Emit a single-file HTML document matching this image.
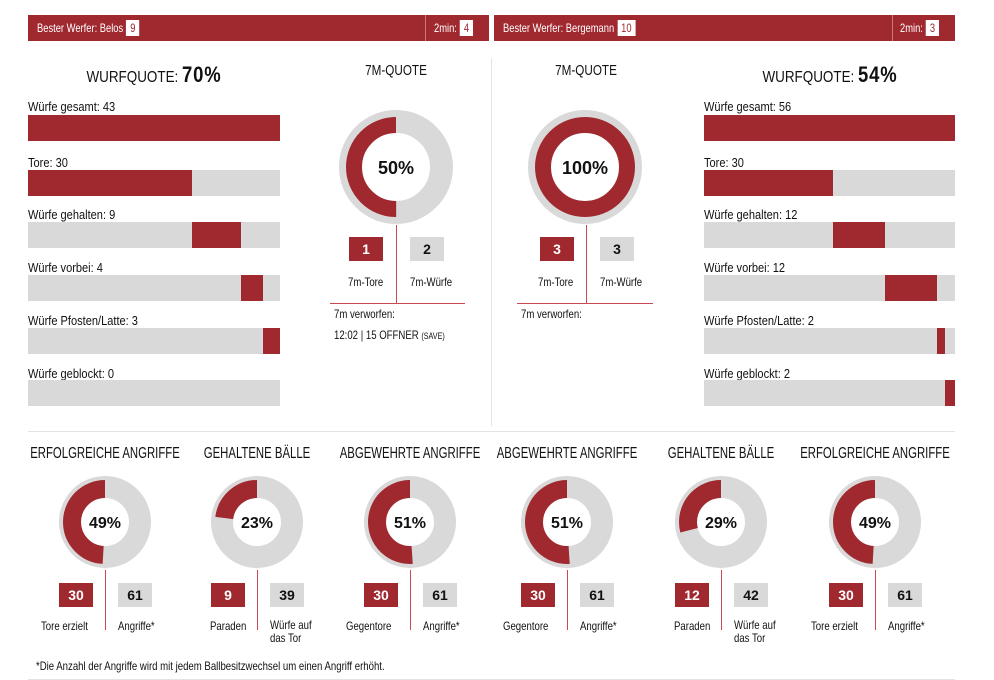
<!DOCTYPE html>
<html><head><meta charset="utf-8">
<style>
body{margin:0;background:#fff;width:994px;height:680px;overflow:hidden;position:relative;font-family:"Liberation Sans",sans-serif;color:#111}
.a{position:absolute}
.hdr{position:absolute;top:15px;height:26px;background:#a0282f;color:#fff;font-size:12px;line-height:26px}
.hs{display:inline-block;transform:scaleX(.78);transform-origin:left center;white-space:nowrap}
.bx{display:inline-block;background:#fff;color:#a0282f;height:16px;line-height:16px;padding:0 5px;font-size:12px;vertical-align:middle;margin-left:4px;margin-top:-2px}
.lbl{position:absolute;font-size:13px;transform:scaleX(.85);transform-origin:left;white-space:nowrap}
.bar{position:absolute;height:26px;background:#d9d9d9}
.bar i{position:absolute;top:0;height:26px;background:#a0282f}
.t{position:absolute;font-size:16px;text-align:center;white-space:nowrap;transform:scaleX(.71);transform-origin:center}
.sb{position:absolute;height:24px;width:34px;font-weight:bold;font-size:14px;text-align:center;line-height:24px}
.r{background:#a0282f;color:#fff}.g{background:#d9d9d9;color:#111}
.s{position:absolute;font-size:12px;white-space:nowrap;transform:scaleX(.8);transform-origin:left}
</style></head><body>
<div class="hdr" style="left:28px;width:461px"><span class="hs" style="margin-left:9px">Bester Werfer: Belos<span class="bx">9</span></span></div>
<div class="a" style="left:425px;top:15px;width:1px;height:26px;background:#c77"></div>
<div class="a" style="left:434px;top:15px;color:#fff;font-size:12px;line-height:26px"><span class="hs">2min:<span class="bx">4</span></span></div>
<div class="hdr" style="left:494px;width:461px"><span class="hs" style="margin-left:9px">Bester Werfer: Bergemann<span class="bx">10</span></span></div>
<div class="a" style="left:892px;top:15px;width:1px;height:26px;background:#c77"></div>
<div class="a" style="left:900px;top:15px;color:#fff;font-size:12px;line-height:26px"><span class="hs">2min:<span class="bx">3</span></span></div>

<div class="a" style="left:491px;top:58px;width:1px;height:368px;background:#e3e3e3"></div>
<div class="a" style="left:28px;top:431px;width:927px;height:1px;background:#e3e3e3"></div>
<div class="a" style="left:28px;top:679px;width:927px;height:1px;background:#e3e3e3"></div>

<div class="t" style="left:14px;width:280px;top:62px;font-size:16px;transform:scaleX(.84)">WURFQUOTE: <b style="font-size:22px;letter-spacing:1px">70%</b></div>
<div class="t" style="left:690px;width:280px;top:62px;font-size:16px;transform:scaleX(.84)">WURFQUOTE: <b style="font-size:22px;letter-spacing:1px">54%</b></div>
<div class="t" style="left:336px;width:120px;top:62px;font-size:15px;transform:scaleX(.78)">7M-QUOTE</div>
<div class="t" style="left:526px;width:120px;top:62px;font-size:15px;transform:scaleX(.78)">7M-QUOTE</div>

<!-- left bars -->
<div class="lbl" style="left:28px;top:99px">Würfe gesamt: 43</div><div class="bar" style="left:28px;top:115px;width:252px"><i style="left:0;width:252px"></i></div>
<div class="lbl" style="left:28px;top:155px">Tore: 30</div><div class="bar" style="left:28px;top:170px;width:252px"><i style="left:0;width:164px"></i></div>
<div class="lbl" style="left:28px;top:207px">Würfe gehalten: 9</div><div class="bar" style="left:28px;top:222px;width:252px"><i style="left:164px;width:49px"></i></div>
<div class="lbl" style="left:28px;top:260px">Würfe vorbei: 4</div><div class="bar" style="left:28px;top:275px;width:252px"><i style="left:213px;width:22px"></i></div>
<div class="lbl" style="left:28px;top:313px">Würfe Pfosten/Latte: 3</div><div class="bar" style="left:28px;top:328px;width:252px"><i style="left:235px;width:17px"></i></div>
<div class="lbl" style="left:28px;top:366px">Würfe geblockt: 0</div><div class="bar" style="left:28px;top:380px;width:252px"></div>
<!-- right bars -->
<div class="lbl" style="left:704px;top:99px">Würfe gesamt: 56</div><div class="bar" style="left:704px;top:115px;width:251px"><i style="left:0;width:251px"></i></div>
<div class="lbl" style="left:704px;top:155px">Tore: 30</div><div class="bar" style="left:704px;top:170px;width:251px"><i style="left:0;width:129px"></i></div>
<div class="lbl" style="left:704px;top:207px">Würfe gehalten: 12</div><div class="bar" style="left:704px;top:222px;width:251px"><i style="left:129px;width:52px"></i></div>
<div class="lbl" style="left:704px;top:260px">Würfe vorbei: 12</div><div class="bar" style="left:704px;top:275px;width:251px"><i style="left:181px;width:52px"></i></div>
<div class="lbl" style="left:704px;top:313px">Würfe Pfosten/Latte: 2</div><div class="bar" style="left:704px;top:328px;width:251px"><i style="left:233px;width:8px"></i></div>
<div class="lbl" style="left:704px;top:366px">Würfe geblockt: 2</div><div class="bar" style="left:704px;top:380px;width:251px"><i style="left:241px;width:10px"></i></div>

<svg class="a" style="left:0;top:0" width="994" height="680">
<g font-family="Liberation Sans, sans-serif" font-weight="bold" text-anchor="middle" fill="#111">
<circle cx="396" cy="167" r="45.5" fill="none" stroke="#d9d9d9" stroke-width="23"/>
<circle transform="translate(396,167) rotate(-90) scale(1,-1)" r="42" fill="none" stroke="#a0282f" stroke-width="16" stroke-dasharray="131.9 300"/>
<text x="396" y="174" font-size="18">50%</text>
<circle cx="585" cy="167" r="45.5" fill="none" stroke="#d9d9d9" stroke-width="23"/>
<circle cx="585" cy="167" r="42" fill="none" stroke="#a0282f" stroke-width="16"/>
<text x="585" y="174" font-size="18">100%</text>

<circle cx="105" cy="522" r="35" fill="none" stroke="#d9d9d9" stroke-width="22"/>
<circle transform="translate(105,522) rotate(-90) scale(1,-1)" r="33" fill="none" stroke="#a0282f" stroke-width="18" stroke-dasharray="101.6 300"/>
<text x="105" y="528" font-size="16">49%</text>
<circle cx="257" cy="522" r="35" fill="none" stroke="#d9d9d9" stroke-width="22"/>
<circle transform="translate(257,522) rotate(-90) scale(1,-1)" r="33" fill="none" stroke="#a0282f" stroke-width="18" stroke-dasharray="47.7 300"/>
<text x="257" y="528" font-size="16">23%</text>
<circle cx="410" cy="522" r="35" fill="none" stroke="#d9d9d9" stroke-width="22"/>
<circle transform="translate(410,522) rotate(-90) scale(1,-1)" r="33" fill="none" stroke="#a0282f" stroke-width="18" stroke-dasharray="105.7 300"/>
<text x="410" y="528" font-size="16">51%</text>
<circle cx="567" cy="522" r="35" fill="none" stroke="#d9d9d9" stroke-width="22"/>
<circle transform="translate(567,522) rotate(-90) scale(1,-1)" r="33" fill="none" stroke="#a0282f" stroke-width="18" stroke-dasharray="105.7 300"/>
<text x="567" y="528" font-size="16">51%</text>
<circle cx="721" cy="522" r="35" fill="none" stroke="#d9d9d9" stroke-width="22"/>
<circle transform="translate(721,522) rotate(-90) scale(1,-1)" r="33" fill="none" stroke="#a0282f" stroke-width="18" stroke-dasharray="60.1 300"/>
<text x="721" y="528" font-size="16">29%</text>
<circle cx="875" cy="522" r="35" fill="none" stroke="#d9d9d9" stroke-width="22"/>
<circle transform="translate(875,522) rotate(-90) scale(1,-1)" r="33" fill="none" stroke="#a0282f" stroke-width="18" stroke-dasharray="101.6 300"/>
<text x="875" y="528" font-size="16">49%</text>
</g>
<g stroke="#c74a55" stroke-width="1">
<line x1="396.5" y1="225" x2="396.5" y2="303"/><line x1="330" y1="303.5" x2="465" y2="303.5"/>
<line x1="586.5" y1="225" x2="586.5" y2="303"/><line x1="517" y1="303.5" x2="653" y2="303.5"/>
<line x1="105.5" y1="570" x2="105.5" y2="630"/><line x1="257.5" y1="570" x2="257.5" y2="630"/>
<line x1="410.5" y1="570" x2="410.5" y2="630"/><line x1="567.5" y1="570" x2="567.5" y2="630"/>
<line x1="721.5" y1="570" x2="721.5" y2="630"/><line x1="875.5" y1="570" x2="875.5" y2="630"/>
</g>
</svg>

<div class="sb r" style="left:349px;top:237px">1</div><div class="sb g" style="left:410px;top:237px">2</div>
<div class="s" style="left:348px;top:275px">7m-Tore</div><div class="s" style="left:410px;top:275px">7m-Würfe</div>
<div class="s" style="left:334px;top:307px">7m verworfen:</div>
<div class="s" style="left:334px;top:328px">12:02 | 15 OFFNER <span style="font-size:9px">(SAVE)</span></div>
<div class="sb r" style="left:540px;top:237px">3</div><div class="sb g" style="left:600px;top:237px">3</div>
<div class="s" style="left:538px;top:275px">7m-Tore</div><div class="s" style="left:600px;top:275px">7m-Würfe</div>
<div class="s" style="left:521px;top:307px">7m verworfen:</div>

<div class="t" style="left:-15px;width:240px;top:445px">ERFOLGREICHE ANGRIFFE</div>
<div class="t" style="left:137px;width:240px;top:445px">GEHALTENE BÄLLE</div>
<div class="t" style="left:290px;width:240px;top:445px">ABGEWEHRTE ANGRIFFE</div>
<div class="t" style="left:447px;width:240px;top:445px">ABGEWEHRTE ANGRIFFE</div>
<div class="t" style="left:601px;width:240px;top:445px">GEHALTENE BÄLLE</div>
<div class="t" style="left:755px;width:240px;top:445px">ERFOLGREICHE ANGRIFFE</div>

<div class="sb r" style="left:59px;top:583px">30</div><div class="sb g" style="left:118px;top:583px">61</div>
<div class="s" style="left:41px;top:619px">Tore erzielt</div><div class="s" style="left:118px;top:619px">Angriffe*</div>
<div class="sb r" style="left:211px;top:583px">9</div><div class="sb g" style="left:270px;top:583px">39</div>
<div class="s" style="left:210px;top:619px">Paraden</div><div class="s" style="left:270px;top:619px;line-height:13px">Würfe auf<br>das Tor</div>
<div class="sb r" style="left:364px;top:583px">30</div><div class="sb g" style="left:423px;top:583px">61</div>
<div class="s" style="left:346px;top:619px">Gegentore</div><div class="s" style="left:423px;top:619px">Angriffe*</div>
<div class="sb r" style="left:521px;top:583px">30</div><div class="sb g" style="left:580px;top:583px">61</div>
<div class="s" style="left:503px;top:619px">Gegentore</div><div class="s" style="left:580px;top:619px">Angriffe*</div>
<div class="sb r" style="left:675px;top:583px">12</div><div class="sb g" style="left:734px;top:583px">42</div>
<div class="s" style="left:674px;top:619px">Paraden</div><div class="s" style="left:734px;top:619px;line-height:13px">Würfe auf<br>das Tor</div>
<div class="sb r" style="left:829px;top:583px">30</div><div class="sb g" style="left:888px;top:583px">61</div>
<div class="s" style="left:811px;top:619px">Tore erzielt</div><div class="s" style="left:888px;top:619px">Angriffe*</div>

<div class="s" style="left:36px;top:659px">*Die Anzahl der Angriffe wird mit jedem Ballbesitzwechsel um einen Angriff erhöht.</div>
</body></html>
